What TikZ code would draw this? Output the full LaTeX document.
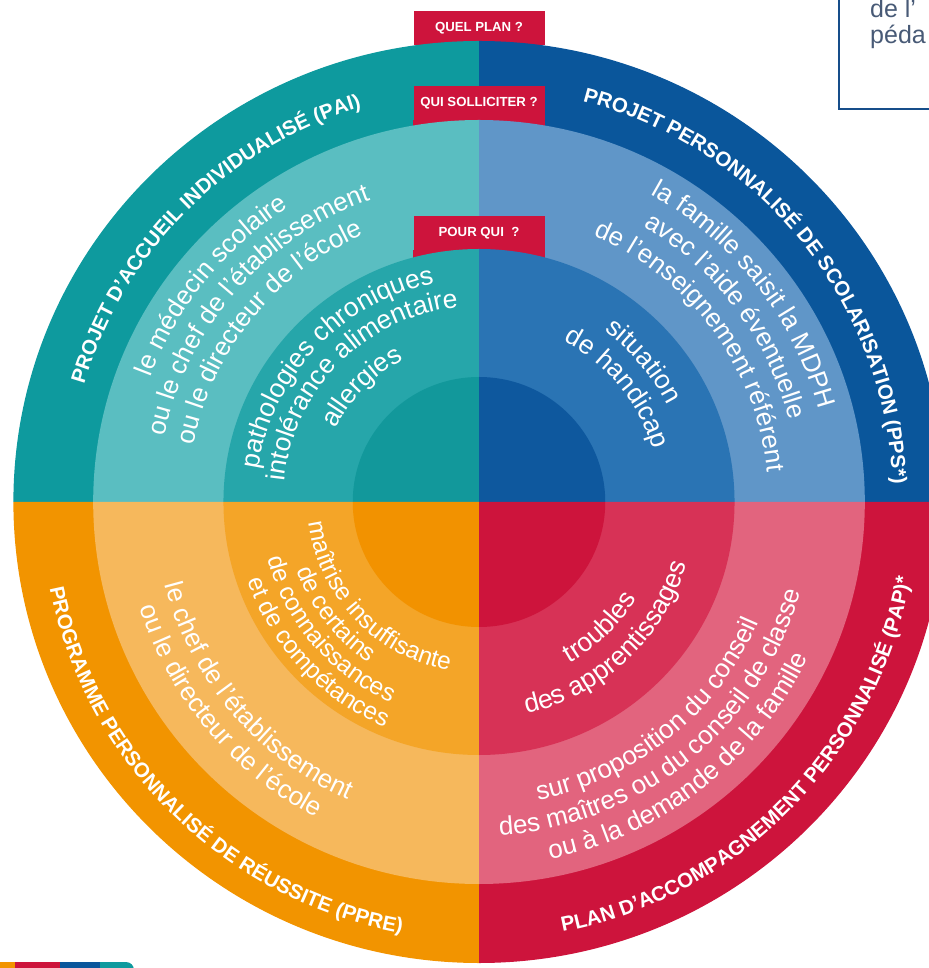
\documentclass[tikz,border=0pt]{standalone}
\usepackage{fontspec}
\setmainfont{Liberation Sans}
\usetikzlibrary{decorations.text}

\definecolor{paiOuter}{RGB}{14,154,158}
\definecolor{paiMid}{RGB}{90,190,193}
\definecolor{paiIn}{RGB}{38,166,170}
\definecolor{paiCore}{RGB}{18,152,155}
\definecolor{ppsOuter}{RGB}{10,86,155}
\definecolor{ppsMid}{RGB}{96,150,200}
\definecolor{ppsIn}{RGB}{42,116,180}
\definecolor{ppsCore}{RGB}{14,88,158}
\definecolor{ppreOuter}{RGB}{242,148,0}
\definecolor{ppreMid}{RGB}{246,184,92}
\definecolor{ppreIn}{RGB}{244,165,40}
\definecolor{ppreCore}{RGB}{242,146,0}
\definecolor{papOuter}{RGB}{205,20,60}
\definecolor{papMid}{RGB}{226,100,126}
\definecolor{papIn}{RGB}{215,50,86}
\definecolor{papCore}{RGB}{205,20,60}
\definecolor{tagred}{RGB}{205,20,60}
\definecolor{boxblue}{RGB}{22,78,138}
\definecolor{notegray}{RGB}{72,90,118}

\newcommand{\planfont}{\bfseries\fontsize{20.5}{24}\selectfont}
\newcommand{\whofont}{\fontsize{26}{30}\selectfont}
\newcommand{\forfont}{\fontsize{26.5}{30}\selectfont}
\newcommand{\bifont}{\fontsize{24.5}{28}\selectfont}
\newcommand{\tagfont}{\bfseries\fontsize{13.2}{15}\selectfont}
\newcommand{\notefont}{\fontsize{25}{28}\selectfont}

\newcommand{\cwline}[4]{\path[decorate,decoration={text along path,text align=center,text color=white,text={|#3|#4}}]
    (#2+80:#1) arc[start angle=#2+80,end angle=#2-80,radius=#1];}
\newcommand{\ccwline}[4]{\path[decorate,decoration={text along path,text align=center,text color=white,text={|#3|#4}}]
    (#2-80:#1) arc[start angle=#2-80,end angle=#2+80,radius=#1];}

\begin{document}
\begin{tikzpicture}[x=1pt,y=1pt]
    \tikzstyle{tag}=[fill=tagred,text=white,font=\tagfont,minimum width=131,minimum height=34,inner sep=0]
    \tikzstyle{note}=[anchor=base west,text=notegray,font=\notefont,inner sep=0]
    {
        \useasboundingbox (-479,-466) rectangle (449,502);

        \draw[boxblue,line width=2.5] (360,520) |- (470,393);
        \node[note] (notea) at (391,484) {de l'};
        \node[note] (noteb) at (391,458) {péda};

        \node[tag] (quelplan) at (0,474) {QUEL PLAN ?};

        \begin{scope}[xscale=1.01]
            \foreach \a/\col in {90/paiOuter,0/ppsOuter,180/ppreOuter,270/papOuter}
                \fill[fill=\col] (0,0) -- (\a:461) arc[start angle=\a,end angle=\a+90,radius=461] -- cycle;
        \end{scope}

        \node[tag] (quisolliciter) at (0,399) {QUI SOLLICITER ?};
        \fill[tagred] (quisolliciter.south west) rectangle ([yshift=-8]quisolliciter.south east);

        \begin{scope}[xscale=1.01]
            \foreach \a/\col in {90/paiMid,0/ppsMid,180/ppreMid,270/papMid}
                \fill[fill=\col] (0,0) -- (\a:382) arc[start angle=\a,end angle=\a+90,radius=382] -- cycle;
        \end{scope}

        \node[tag] (pourqui) at (0,269) {POUR QUI\ \ ?};
        \fill[tagred] (pourqui.south west) rectangle ([yshift=-10]pourqui.south east);

        \begin{scope}[xscale=1.01]
            \foreach \a/\col in {90/paiIn,0/ppsIn,180/ppreIn,270/papIn}
                \fill[fill=\col] (0,0) -- (\a:253) arc[start angle=\a,end angle=\a+90,radius=253] -- cycle;
            \foreach \a/\col in {90/paiCore,0/ppsCore,180/ppreCore,270/papCore}
                \fill[fill=\col] (0,0) -- (\a:125) arc[start angle=\a,end angle=\a+90,radius=125] -- cycle;
        \end{scope}

        \cwline{412}{135}{\planfont}{PROJET D'ACCUEIL INDIVIDUALISÉ (PAI)}
        \cwline{351}{141}{\whofont}{le médecin scolaire}
        \cwline{321}{139}{\whofont}{ou le chef de l'établissement}
        \cwline{291}{141}{\whofont}{ou le directeur de l'école}
        \cwline{223}{136.5}{\forfont}{pathologies chroniques}
        \cwline{196}{135}{\forfont}{intolérance alimentaire}
        \cwline{161}{135.5}{\forfont}{allergies}

        \cwline{414}{39}{\planfont}{PROJET PERSONNALISÉ DE SCOLARISATION (PPS*)}
        \cwline{352}{38}{\whofont}{la famille saisit la MDPH}
        \cwline{321}{37}{\whofont}{avec l'aide éventuelle}
        \cwline{290}{36.3}{\whofont}{de l'enseignement référent}
        \cwline{212}{40.5}{\forfont}{situation}
        \cwline{182}{39.5}{\forfont}{de handicap}

        \ccwline{438}{225.6}{\planfont}{PROGRAMME PERSONNALISÉ DE RÉUSSITE (PPRE)}
        \ccwline{325}{220.5}{\whofont}{le chef de l'établissement}
        \ccwline{355}{220}{\whofont}{ou le directeur de l'école}
        \ccwline{171}{223.5}{\bifont}{maîtrise insuffisante}
        \ccwline{195}{218}{\bifont}{de certains}
        \ccwline{219}{220.6}{\bifont}{de connaissances}
        \ccwline{244}{223}{\bifont}{et de compétances}

        \ccwline{438}{315.5}{\planfont}{PLAN D'ACCOMPAGNEMENT PERSONNALISÉ (PAP)*}
        \ccwline{304}{309}{\whofont}{sur proposition du conseil}
        \ccwline{334}{309}{\whofont}{des maîtres ou du conseil de classe}
        \ccwline{364}{308}{\whofont}{ou à la demande de la famille}
        \ccwline{185}{314}{\forfont}{troubles}
        \ccwline{217}{313}{\forfont}{des apprentissages}

        \begin{scope}
            \clip[rounded corners=8] (-490,-480) rectangle (-345,-460);
            \fill[ppreOuter] (-490,-480) rectangle (-464,-460);
            \fill[papOuter] (-464,-480) rectangle (-419,-460);
            \fill[ppsOuter] (-419,-480) rectangle (-379,-460);
            \fill[paiOuter] (-379,-480) rectangle (-345,-460);
        \end{scope}
    }
\end{tikzpicture}
\end{document}
